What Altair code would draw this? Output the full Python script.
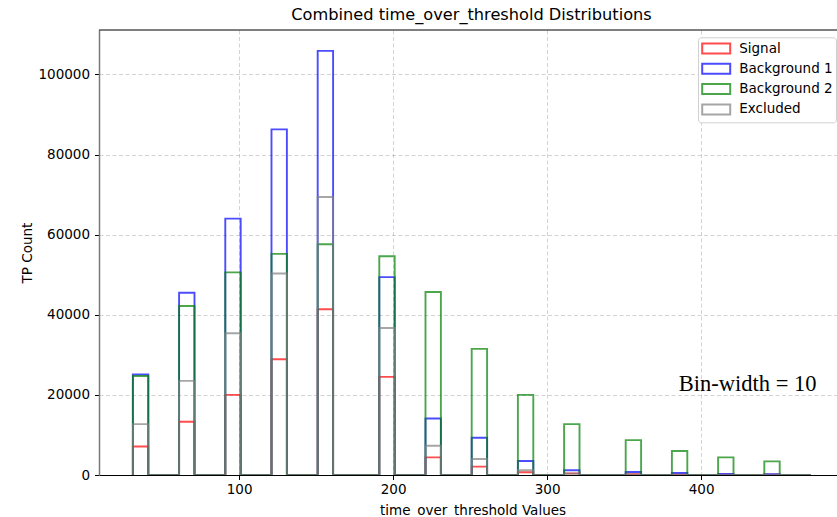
import altair as alt
import pandas as pd

# ---- data ----
series_names = ["Signal", "Background 1", "Background 2", "Excluded"]
series_colors = ["#ff0000", "#0000ff", "#008000", "#808080"]

bin_width = 10
hist_start = 31
hist_end = 471
bin_left = [31, 61, 91, 121, 151, 191, 221, 251, 281, 311, 351, 381, 411, 441]

signal = [7100, 13300, 20000, 28900, 41400, 24500, 4400, 2100, 700, 400, 200, 100, 50, 50]
background1 = [25100, 45500, 64000, 86300, 105900, 49400, 14100, 9300, 3500, 1200, 750, 500, 250, 200]
background2 = [24700, 42200, 50600, 55200, 57600, 54600, 45700, 31500, 20000, 12700, 8700, 6000, 4400, 3400]
excluded = [12700, 23500, 35400, 50300, 69400, 36700, 7300, 4000, 1200, 300, 150, 100, 50, 50]

x_ticks = [100, 200, 300, 400]
y_ticks = [0, 20000, 40000, 60000, 80000, 100000]

annot_x = [385.5]
annot_y = [21000]
annot_text = ["Bin-width = 10"]

# ---- build step-histogram outlines (matplotlib histtype='step') ----
rows = []
for name, counts in zip(series_names, [signal, background1, background2, excluded]):
    pts = [(hist_start, 0)]
    for left, c in zip(bin_left, counts):
        pts += [(left, 0), (left, c), (left + bin_width, c), (left + bin_width, 0)]
    pts.append((hist_end, 0))
    for i, (x, y) in enumerate(pts):
        rows.append({"series": name, "x": x, "y": y, "idx": i})
df = pd.DataFrame(rows)

FONT = "DejaVu Sans"
FS = 13.5
W, H = 738, 445

x_scale = alt.Scale(domain=[9, 488.2], nice=False, zero=False)
y_scale = alt.Scale(domain=[0, 111100], nice=False)
color_scale = alt.Scale(domain=series_names, range=series_colors)

x_axis = alt.Axis(
    values=x_ticks, format="d", grid=True,
    gridDash=[4, 2.5], gridColor="#b0b0b0", gridOpacity=0.7, gridWidth=0.8,
    domainColor="black", domainWidth=1, tickColor="black", tickSize=4.5, tickWidth=1,
    labelFont=FONT, labelFontSize=FS, labelColor="black", labelPadding=3,
    title="time_over_threshold Values", titleFont=FONT, titleFontSize=FS,
    titleFontWeight="normal", titleColor="black",
    titleX=373.5, titleY=39.5, titleBaseline="alphabetic", titleAlign="center",
)
y_axis = alt.Axis(
    values=y_ticks, format="d", grid=True,
    gridDash=[4, 2.5], gridColor="#b0b0b0", gridOpacity=0.7, gridWidth=0.8,
    domainColor="#7a7a7a", domainWidth=1.5, tickColor="black", tickSize=4.5, tickWidth=1,
    labelFont=FONT, labelFontSize=FS, labelColor="black", labelPadding=5,
    title="TP Count", titleFont=FONT, titleFontSize=FS,
    titleFontWeight="normal", titleColor="black",
    titleX=-72, titleY=222.5, titleAngle=-90, titleBaseline="middle", titleAlign="center",
)

legend = alt.Legend(
    title=None, orient="none", legendX=599, legendY=7.3,
    symbolType="M-1,-0.714H3V0.714H-1Z", symbolSize=196, symbolStrokeWidth=2,
    symbolFillColor="transparent", symbolOpacity=0.7,
    labelFont=FONT, labelFontSize=FS, labelColor="black", labelOffset=22,
    rowPadding=2.3, padding=3.2,
    fillColor="white", strokeColor="#d0d0d0", cornerRadius=3,
)

layers = []
for name in series_names:
    layers.append(
        alt.Chart(df)
        .transform_filter(alt.datum.series == name)
        .mark_line(strokeWidth=1.9, strokeOpacity=0.7, clip=True)
        .encode(
            x=alt.X("x:Q", scale=x_scale, axis=x_axis),
            y=alt.Y("y:Q", scale=y_scale, axis=y_axis),
            color=alt.Color("series:N", scale=color_scale, legend=legend),
            order=alt.Order("idx:Q"),
        )
    )

annot_df = pd.DataFrame({"x": annot_x, "y": annot_y, "t": annot_text})
annot = alt.Chart(annot_df).mark_text(
    font="Liberation Serif", fontSize=22.5, align="left", baseline="alphabetic", color="black"
).encode(x=alt.X("x:Q", scale=x_scale), y=alt.Y("y:Q", scale=y_scale), text="t:N")

top_spine = alt.Chart(annot_df).mark_rule(color="black", strokeWidth=1).encode(y=alt.value(0))

chart = alt.layer(*layers, annot, top_spine).properties(
    width=W, height=H,
    title=alt.TitleParams(
        "Combined time_over_threshold Distributions", font=FONT, fontSize=16.2,
        fontWeight="normal", color="black", anchor="middle", frame="group",
        dx=3.5, dy=16, offset=9, baseline="alphabetic",
    ),
    autosize=alt.AutoSizeParams(type="none"),
    padding={"left": 99, "top": 30, "right": 0, "bottom": 42},
    background="white",
).configure_view(stroke=None)

chart.save("out.html", embed_options={"renderer": "svg", "actions": False})
